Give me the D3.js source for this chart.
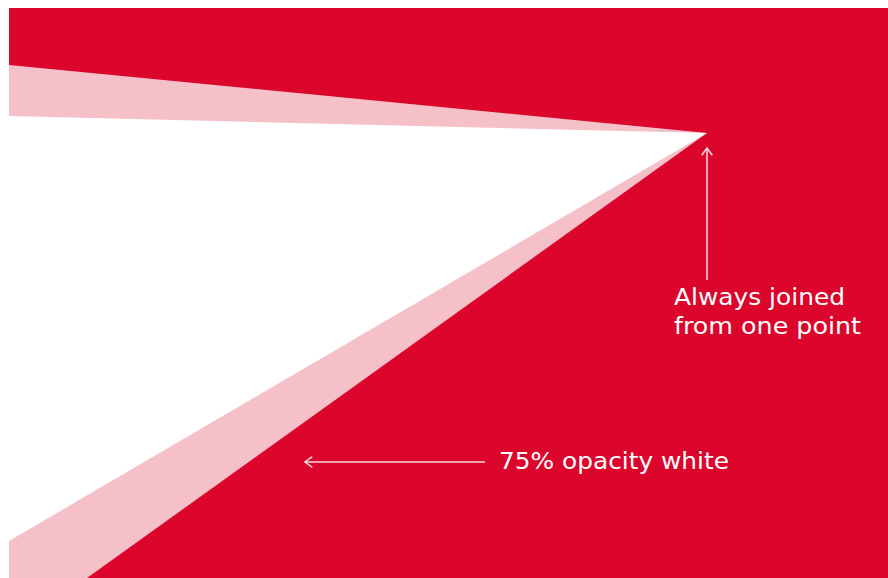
<!DOCTYPE html>
<html>
<head>
<meta charset="utf-8">
<script src="https://cdn.jsdelivr.net/npm/d3@7"></script>
<style>
  body { margin: 0; background: #fff; }
  svg text { font-family: "DejaVu Sans", sans-serif; fill: #fff; }
</style>
</head>
<body>
<div id="chart"></div>
<script>
// panel coordinates (origin at top-left of the red panel)
const apex = [698, 125];
const outerShape = [[0, 57], apex, [78, 570], [0, 570]];
const innerShape = [[0, 108], apex, [0, 533]];
const labelTexts = ["Always joined", "from one point", "75% opacity white"];

const width = 888, height = 578;
const svg = d3.select("#chart")
  .append("svg")
    .attr("width", width)
    .attr("height", height);

const x = d3.scaleLinear().domain([0, 879]).range([9, 888]);
const y = d3.scaleLinear().domain([0, 570]).range([8, 578]);

svg.append("rect")
    .attr("x", x(0)).attr("y", y(0))
    .attr("width", x(879) - x(0)).attr("height", y(570) - y(0))
    .attr("fill", "#dc052b");

const line = d3.line().x(d => x(d[0])).y(d => y(d[1]));

svg.append("path")
    .attr("d", line(outerShape) + "Z")
    .attr("fill", "#fff")
    .attr("fill-opacity", 0.75);

svg.append("path")
    .attr("d", line(innerShape) + "Z")
    .attr("fill", "#fff");

// arrows: one up to the apex, one pointing at the pale band
const arrows = [
  {from: [apex[0], 272], to: [apex[0], 140]},
  {from: [476, 454], to: [296, 454]}
];
arrows.forEach(a => {
  const x1 = x(a.from[0]), y1 = y(a.from[1]), x2 = x(a.to[0]), y2 = y(a.to[1]);
  const ang = Math.atan2(y2 - y1, x2 - x1);
  const len = 9, spread = Math.PI / 5;
  svg.append("line")
      .attr("x1", x1).attr("y1", y1).attr("x2", x2).attr("y2", y2)
      .attr("stroke", "#fff").attr("stroke-opacity", 0.85).attr("stroke-width", 1.5);
  svg.append("path")
      .attr("d", d3.line()([
        [x2 - len * Math.cos(ang - spread), y2 - len * Math.sin(ang - spread)],
        [x2, y2],
        [x2 - len * Math.cos(ang + spread), y2 - len * Math.sin(ang + spread)]
      ]))
      .attr("fill", "none")
      .attr("stroke", "#fff").attr("stroke-opacity", 0.85).attr("stroke-width", 1.5);
});

// label layout
const pos = [[665, 297, 171], [665, 326, 187], [490, 461, 230]];
svg.selectAll("text.label")
  .data(labelTexts)
  .join("text")
    .attr("class", "label")
    .attr("x", (d, i) => x(pos[i][0]))
    .attr("y", (d, i) => y(pos[i][1]))
    .attr("font-size", 23.5)
    .attr("textLength", (d, i) => pos[i][2])
    .attr("lengthAdjust", "spacingAndGlyphs")
    .text(d => d);
</script>
</body>
</html>
